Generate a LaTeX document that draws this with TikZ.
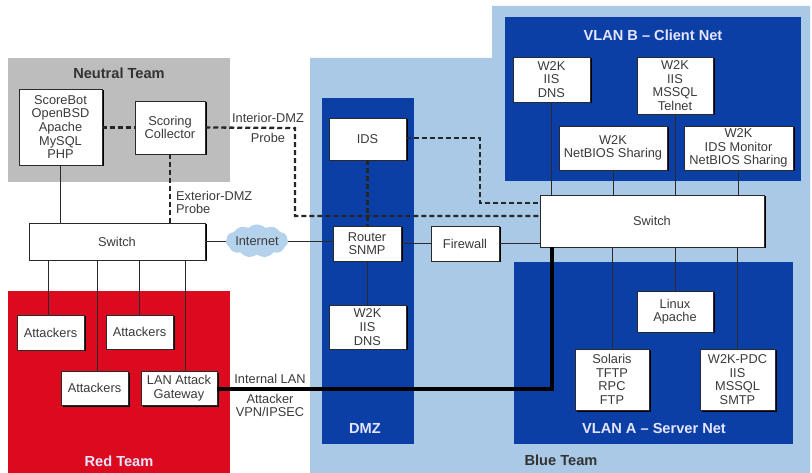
\documentclass[tikz,border=0pt]{standalone}
\usepackage{fontspec}
\setmainfont{Liberation Sans}
\usetikzlibrary{shapes.symbols,shadows,calc}
\definecolor{bluelight}{HTML}{A9C9E6}
\definecolor{bluedark}{HTML}{0B3FA6}
\definecolor{redteam}{HTML}{DC0A1E}
\definecolor{greyteam}{HTML}{BDBDBD}
\definecolor{txt}{HTML}{3A3A3A}
\definecolor{ln}{HTML}{2A2A2A}
\definecolor{cloudfill}{HTML}{B4D2EC}
\tikzset{
  hostbox/.style={draw=ln,line width=0.5pt,fill=white,inner sep=0pt,align=center,text=txt,
    font=\fontsize{12.8}{13.6}\selectfont,
    general shadow={fill=black,shadow xshift=1.5pt,shadow yshift=-1.5pt}},
  link/.style={draw=ln,line width=0.9pt},
  probe/.style={draw=black!85,line width=2.3pt,dash pattern=on 5pt off 3pt},
  trunk/.style={draw=black,line width=3.6pt,line join=miter},
  lbl/.style={text=txt,align=center,inner sep=0pt,font=\fontsize{12.8}{13}\selectfont},
  teamdark/.style={text=black!80,inner sep=0pt,font=\fontsize{14.6}{16}\selectfont\bfseries},
  teamlight/.style={text=white!90!blue,inner sep=0pt,font=\fontsize{14.6}{16}\selectfont\bfseries},
}
\newcommand{\hostnode}[6]{%
  \pgfmathsetmacro{\hbw}{#4-#2}\pgfmathsetmacro{\hbh}{#5-#3}%
  \pgfmathsetmacro{\hcx}{(#2+#4)/2}\pgfmathsetmacro{\hcy}{(#3+#5)/2}%
  \node[hostbox,minimum width=\hbw pt,minimum height=\hbh pt] (#1) at (\hcx,\hcy) {#6};}
\begin{document}
\begin{tikzpicture}[x=1pt,y=-1pt]
\useasboundingbox (0,0) rectangle (812,473);
% regions
\fill[bluelight] (310,58) -- (492,58) -- (492,6) -- (810,6) -- (810,473) -- (310,473) -- cycle;
\fill[greyteam] (8,58) rectangle (230,182);
\fill[redteam] (8,291) rectangle (230,473);
\fill[bluedark] (322,98) rectangle (414,444);
\fill[bluedark] (505,17) rectangle (801,181);
\fill[bluedark] (514,262) rectangle (793,444);
% titles
\node[teamdark] (tNeutral) at (119,73) {Neutral Team};
\node[teamlight] (tRed) at (119,461) {Red Team};
\node[teamlight] (tDMZ) at (365,428) {DMZ};
\node[teamlight] (tVB) at (653,35) {VLAN B -- Client Net};
\node[teamlight] (tVA) at (654,428) {VLAN A -- Server Net};
\node[teamdark] (tBlue) at (561,460) {Blue Team};
% hosts
\hostnode{score}{19}{89}{102}{165}{ScoreBot\\OpenBSD\\Apache\\MySQL\\PHP}
\hostnode{coll}{135}{101}{205}{154}{Scoring\\Collector}
\hostnode{swL}{29}{223}{205}{260}{Switch}
\hostnode{at1}{17}{315}{84}{350}{Attackers}
\hostnode{at2}{106}{315}{173}{349}{Attackers}
\hostnode{at3}{61}{371}{128}{405}{Attackers}
\hostnode{gw}{141}{371}{217}{405}{LAN Attack\\Gateway}
\hostnode{ids}{329}{118}{406}{160}{IDS}
\hostnode{router}{333}{226}{401}{261}{Router\\SNMP}
\hostnode{dmzw}{329}{305}{406}{349}{W2K\\IIS\\DNS}
\hostnode{fw}{431}{226}{499}{261}{Firewall}
\hostnode{b1}{513}{57}{590}{102}{W2K\\IIS\\DNS}
\hostnode{b2}{637}{57}{713}{114}{W2K\\IIS\\MSSQL\\Telnet}
\hostnode{b3}{559}{126}{667}{170}{W2K\\NetBIOS Sharing}
\hostnode{b4}{684}{126}{793}{170}{W2K\\IDS Monitor\\NetBIOS Sharing}
\hostnode{swR}{540}{195}{764}{247}{Switch}
\hostnode{linux}{637}{291}{713}{332}{Linux\\Apache}
\hostnode{sol}{575}{349}{649}{410}{Solaris\\TFTP\\RPC\\FTP}
\hostnode{pdc}{700}{349}{775}{410}{W2K-PDC\\IIS\\MSSQL\\SMTP}
\node[cloud,cloud puffs=11,cloud puff arc=90,aspect=2,fill=cloudfill,draw=none,
  minimum width=62pt,minimum height=33pt,inner sep=0pt] (inet) at (257,241) {};
\node[lbl] (inetT) at (257,241) {Internet};
% plain links
\draw[link] (score.south) -- (score.south |- swL.north);
\draw[link] ($(at1.north)+(-2,0)$) -- ($(at1.north |- swL.south)+(-2,0)$);
\draw[link] ($(at3.north)+(3,0)$) -- ($(at3.north |- swL.south)+(3,0)$);
\draw[link] (at2.north) -- (at2.north |- swL.south);
\draw[link] ($(gw.north)+(6,0)$) -- ($(gw.north |- swL.south)+(6,0)$);
\draw[link] (swL.east |- inet.west) -- (inet.west);
\draw[link] (inet.east) -- (router.west |- inet.east);
\draw[link] (router.east |- fw.west) -- (fw.west);
\draw[link] (fw.east) -- (fw.east -| swR.west);
\draw[link] (router.south) -- (dmzw.north -| router.south);
\draw[link] (b1.south) -- (b1.south |- swR.north);
\draw[link] (b2.south) -- (b2.south |- swR.north);
\draw[link] (b3.south) -- (b3.south |- swR.north);
\draw[link] (b4.south) -- (b4.south |- swR.north);
\draw[link] (sol.north) -- (sol.north |- swR.south);
\draw[link] (linux.north) -- (linux.north |- swR.south);
\draw[link] (pdc.north) -- (pdc.north |- swR.south);
% probes
\coordinate (pA) at (295,128);
\coordinate (pB) at (295,216);
\coordinate (pC) at (480,138);
\coordinate (pD) at (480,203);
\draw[probe] (score.east |- coll.west) -- (coll.west);
\draw[probe] (coll.east) -- (pA) -- (pB) -- (pB -| swR.west);
\draw[probe] (coll.south) -- (coll.south |- swL.north);
\draw[probe] (ids.south) -- (ids.south |- router.north);
\draw[probe] (ids.east |- pC) -- (pC) -- (pD) -- (pD -| swR.west);
% trunk
\coordinate (tk) at (552,389);
\draw[trunk] (gw.east |- tk) -- (tk) -- (tk |- swR.south);
% labels
\node[lbl] (lbInt) at (268,128) {Interior-DMZ\\[6.5pt]Probe};
\node[lbl,align=left,anchor=west] (lbExt) at (176,202) {Exterior-DMZ\\Probe};
\node[lbl] (lbLan) at (270,379) {Internal LAN};
\node[lbl] (lbVpn) at (270,405) {Attacker\\VPN/IPSEC};
\end{tikzpicture}
\end{document}
